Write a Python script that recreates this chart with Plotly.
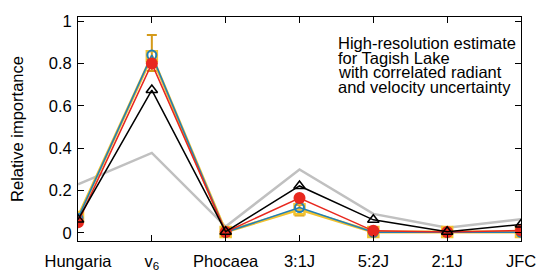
import plotly.graph_objects as go

categories = ["Hungaria", "v<sub>6</sub>", "Phocaea", "3:1J", "5:2J", "2:1J", "JFC"]
gray_vals = [0.23, 0.378, 0.03, 0.30, 0.09, 0.025, 0.065]
gold_vals = [0.075, 0.835, 0.005, 0.112, 0.005, 0.005, 0.005]
gold_err_plus = [0.01, 0.10, 0.005, 0.02, 0.005, 0.01, 0.005]
gold_err_minus = [0.01, 0.07, 0.005, 0.03, 0.005, 0.005, 0.005]
blue_vals = [0.07, 0.84, 0.003, 0.12, 0.003, 0.003, 0.003]
red_vals = [0.05, 0.80, 0.005, 0.165, 0.01, 0.005, 0.012]
black_vals = [0.063, 0.675, 0.006, 0.222, 0.062, 0.006, 0.04]
y_ticks = [0, 0.2, 0.4, 0.6, 0.8, 1]
y_tick_text = ["0", "0.2", "0.4", "0.6", "0.8", "1"]
note_lines = ["High-resolution estimate", "for Tagish Lake",
              "with correlated radiant", "and velocity uncertainty"]

x = list(range(len(categories)))
FONT = "Liberation Sans, Arial, Helvetica, sans-serif"
FS = 16.5

fig = go.Figure()
fig.add_trace(go.Scatter(x=x, y=gray_vals, mode="lines",
                         line=dict(color="#c0c0c0", width=2.5), showlegend=False))
fig.add_trace(go.Scatter(x=x, y=gold_vals, mode="lines+markers",
                         line=dict(color="#f2c230", width=3),
                         marker=dict(symbol="square-open", size=10, color="#f2c230",
                                     line=dict(width=2.5, color="#f2c230")),
                         error_y=dict(type="data", symmetric=False, array=gold_err_plus,
                                      arrayminus=gold_err_minus, color="#d49a1a",
                                      thickness=2, width=5),
                         showlegend=False))
fig.add_trace(go.Scatter(x=x, y=blue_vals, mode="lines+markers",
                         line=dict(color="#1f7fb8", width=1.5),
                         marker=dict(symbol="circle-open", size=9, color="#1f7fb8",
                                     line=dict(width=2, color="#1f7fb8")),
                         showlegend=False))
fig.add_trace(go.Scatter(x=x, y=red_vals, mode="lines+markers",
                         line=dict(color="#e8281e", width=1.5),
                         marker=dict(symbol="circle", size=12, color="#e8281e"),
                         showlegend=False))
fig.add_trace(go.Scatter(x=x, y=black_vals, mode="lines+markers",
                         line=dict(color="black", width=1.5),
                         marker=dict(symbol="triangle-up-open", size=10, color="black",
                                     line=dict(width=1.5, color="black")),
                         showlegend=False))

L, R, T, B = 78, 27, 17, 33
W, H = 548, 274
pw = W - L - R
ph = H - T - B
line_centers_px = [43, 57.7, 72.4, 87.1]
for txt, ypx in zip(note_lines, line_centers_px):
    fig.add_annotation(x=(337 - L) / pw, y=(H - B - ypx) / ph,
                       xref="paper", yref="paper", xanchor="left", yanchor="middle",
                       text=txt, showarrow=False, borderpad=0,
                       font=dict(family=FONT, size=FS, color="black"))

fig.update_layout(
    template="none",
    width=W, height=H,
    margin=dict(l=L, r=R, t=T, b=B, autoexpand=False),
    paper_bgcolor="white", plot_bgcolor="white",
    font=dict(family=FONT, size=FS, color="black"),
    xaxis=dict(range=[0, 6], tickmode="array", tickvals=x, ticktext=categories,
               automargin=False,
               showgrid=False, zeroline=False, showline=True, linecolor="black",
               linewidth=1, mirror="allticks", ticks="inside", ticklen=6,
               tickcolor="black", tickfont=dict(size=FS), ticklabelstandoff=5),
    yaxis=dict(range=[-0.038, 1.02], tickmode="array", tickvals=y_ticks,
               automargin=False,
               ticktext=y_tick_text, showgrid=False, zeroline=False, showline=True,
               linecolor="black", linewidth=1, mirror="allticks", ticks="inside",
               ticklen=6, tickcolor="black", tickfont=dict(size=FS),
               ticklabelstandoff=2,
               title=dict(text="Relative importance", font=dict(size=FS), standoff=20)),
)
fig.write_html("out.html", config={"displayModeBar": False},
               post_script="document.body.style.margin='0';document.body.style.overflow='hidden';")
